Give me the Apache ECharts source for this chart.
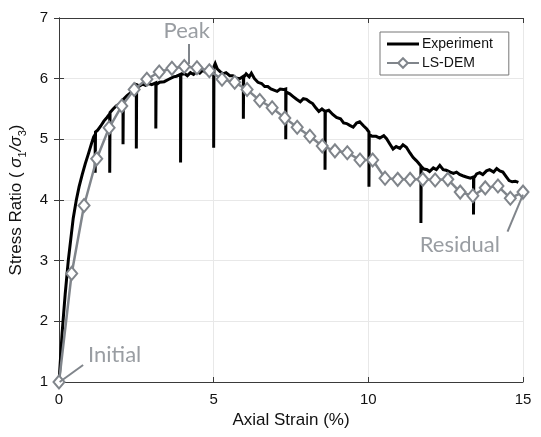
<!DOCTYPE html>
<html>
<head>
<meta charset="utf-8">
<script src="https://cdn.jsdelivr.net/npm/echarts@6/dist/echarts.min.js"></script>
<style>
  html, body { margin: 0; padding: 0; background: #fff; }
  #chart { width: 541px; height: 437px; }
</style>
</head>
<body>
<div id="chart"></div>
<script>
// experiment curve (strain %, stress ratio); spikes are repeated x
const expStrain = [0, 0.05, 0.10, 0.13, 0.20, 0.30, 0.38, 0.46, 0.56, 0.65, 0.75, 0.85, 0.95, 1.05, 1.12, 1.17, 1.17, 1.18,
    1.25, 1.35, 1.45, 1.55, 1.64, 1.64, 1.65, 1.75, 1.85, 1.95, 2.07, 2.07, 2.08, 2.20, 2.30, 2.40, 2.50, 2.50, 2.51,
    2.60, 2.70, 2.80, 2.90, 3.00, 3.13, 3.13, 3.14, 3.25, 3.40, 3.55, 3.70, 3.80, 3.93, 3.93, 3.94,
    4.05, 4.15, 4.25, 4.35, 4.45, 4.55, 4.65, 4.75, 4.85, 5.00, 5.00, 5.01, 5.05, 5.12, 5.20, 5.30, 5.40,
    5.52, 5.62, 5.72, 5.84, 5.96, 5.96, 5.97, 6.05, 6.15, 6.22, 6.32, 6.43, 6.55, 6.65, 6.75, 6.85, 6.95,
    7.05, 7.15, 7.25, 7.33, 7.33, 7.34, 7.46, 7.58, 7.68, 7.80, 7.90, 8.00, 8.10, 8.20, 8.30, 8.40, 8.50,
    8.60, 8.60, 8.61, 8.72, 8.85, 8.97, 9.10, 9.20, 9.30, 9.40, 9.51, 9.62, 9.72, 9.85, 9.95, 10.02, 10.02,
    10.03, 10.12, 10.25, 10.37, 10.50, 10.59, 10.70, 10.80, 10.90, 11.02, 11.12, 11.23, 11.34, 11.45, 11.55,
    11.62, 11.70, 11.70, 11.71, 11.80, 11.90, 11.98, 12.10, 12.20, 12.31, 12.42, 12.52, 12.65, 12.75, 12.85,
    12.95, 13.05, 13.17, 13.30, 13.40, 13.40, 13.41, 13.50, 13.60, 13.70, 13.82, 13.92, 14.05, 14.15, 14.25,
    14.35, 14.45, 14.55, 14.65, 14.75, 14.85];
const expRatio = [1.00, 1.40, 1.80, 2.00, 2.45, 3.00, 3.35, 3.70, 4.00, 4.22, 4.42, 4.60, 4.76, 4.93, 5.04, 5.08, 4.45, 5.12,
    5.15, 5.22, 5.30, 5.36, 5.42, 4.45, 5.44, 5.50, 5.55, 5.58, 5.64, 4.92, 5.66, 5.72, 5.76, 5.80, 5.86, 4.85, 5.90,
    5.88, 5.91, 5.89, 5.92, 5.90, 5.93, 5.18, 5.90, 5.94, 5.95, 5.99, 6.03, 6.04, 6.07, 4.62, 6.06,
    6.09, 6.05, 6.10, 6.07, 6.12, 6.09, 6.14, 6.10, 6.15, 6.16, 4.86, 6.20, 6.25, 6.16, 6.12, 6.08, 6.10,
    6.05, 6.05, 6.01, 6.00, 6.04, 5.34, 6.02, 6.08, 6.03, 6.09, 6.00, 5.94, 5.92, 5.87, 5.87, 5.83, 5.81,
    5.79, 5.83, 5.82, 5.83, 5.00, 5.78, 5.75, 5.70, 5.66, 5.62, 5.67, 5.66, 5.62, 5.59, 5.52, 5.46, 5.50,
    5.46, 4.50, 5.46, 5.48, 5.41, 5.36, 5.34, 5.27, 5.26, 5.23, 5.20, 5.27, 5.29, 5.22, 5.17, 5.12, 4.22,
    5.08, 5.05, 5.05, 5.02, 5.06, 5.01, 4.92, 4.84, 4.88, 4.85, 4.91, 4.87, 4.78, 4.70, 4.65,
    4.61, 4.56, 3.62, 4.55, 4.51, 4.50, 4.47, 4.53, 4.50, 4.57, 4.50, 4.49, 4.46, 4.44, 4.46,
    4.42, 4.40, 4.38, 4.36, 4.38, 3.76, 4.36, 4.43, 4.45, 4.42, 4.48, 4.50, 4.46, 4.52, 4.48,
    4.46, 4.39, 4.32, 4.30, 4.31, 4.29];

// LS-DEM simulation points
const demStrain = [0, 0.41, 0.81, 1.22, 1.62, 2.03, 2.43, 2.84, 3.24, 3.65, 4.05, 4.46, 4.86, 5.27, 5.68, 6.08,
    6.49, 6.89, 7.30, 7.70, 8.11, 8.51, 8.92, 9.32, 9.73, 10.14, 10.54, 10.95, 11.35, 11.76, 12.16, 12.57,
    12.97, 13.38, 13.78, 14.19, 14.59, 15.00];
const demRatio = [1.00, 2.79, 3.91, 4.68, 5.19, 5.55, 5.82, 5.99, 6.11, 6.17, 6.20, 6.18, 6.13, 5.99, 5.94, 5.82,
    5.64, 5.52, 5.35, 5.20, 5.05, 4.89, 4.81, 4.78, 4.66, 4.66, 4.36, 4.34, 4.34, 4.34, 4.33, 4.34,
    4.13, 4.07, 4.20, 4.23, 4.03, 4.13];

// annotations
const annotText = ['Peak', 'Residual', 'Initial'];
const annotX = [4.13, 12.96, 1.80];
const annotY = [6.79, 3.26, 1.45];
const leaderFrom = [[4.2, 6.57], [14.5, 3.48], [0.78, 1.28]];
const leaderTo = [[4.2, 6.24], [15.0, 4.09], [0.02, 1.0]];

const xTicks = { min: 0, max: 15, interval: 5 };
const yTicks = { min: 1, max: 7, interval: 1 };

const grey = '#80858b';
const axisCol = '#3a3a3a';

const chart = echarts.init(document.getElementById('chart'));

const frameAxis = {
    axisLine: { show: true, lineStyle: { color: axisCol, width: 1 } },
    axisTick: { show: true, inside: true, length: 5, lineStyle: { color: axisCol } },
    axisLabel: { show: false },
    splitLine: { show: false }
};

const option = {
    animation: false,
    backgroundColor: '#fff',
    grid: { left: 59, right: 18, top: 18, bottom: 55, outerBoundsMode: 'none' },
    legend: {
        orient: 'vertical',
        left: 380,
        top: 32,
        padding: [5, 16, 5, 6],
        itemGap: 5,
        itemWidth: 32,
        itemHeight: 12,
        backgroundColor: '#fff',
        borderColor: '#777',
        borderWidth: 1,
        textStyle: { fontFamily: 'Liberation Sans', fontSize: 14, color: '#111', padding: [0, 0, 0, -2] },
        data: [
            { name: 'Experiment', icon: 'path://M0,0L32,0L32,3L0,3Z' },
            { name: 'LS-DEM' }
        ]
    },
    xAxis: [
        {
            type: 'value',
            min: xTicks.min, max: xTicks.max, interval: xTicks.interval,
            name: 'Axial Strain (%)',
            nameLocation: 'middle',
            nameGap: 28,
            nameTextStyle: { fontFamily: 'Liberation Sans', fontSize: 17, color: '#111' },
            axisLine: { lineStyle: { color: axisCol } },
            axisTick: { inside: true, length: 5, lineStyle: { color: axisCol } },
            axisLabel: { fontFamily: 'Liberation Sans', fontSize: 15, color: '#111', margin: 10 },
            splitLine: { show: true, lineStyle: { color: '#e8e8e8' } }
        },
        Object.assign({ type: 'value', position: 'top', min: xTicks.min, max: xTicks.max, interval: xTicks.interval }, frameAxis)
    ],
    yAxis: [
        {
            type: 'value',
            min: yTicks.min, max: yTicks.max, interval: yTicks.interval,
            name: 'Stress Ratio ( {s|σ}{sub|1}{s|/σ}{sub|3})',
            nameLocation: 'middle',
            nameGap: 31,
            nameTextStyle: {
                fontFamily: 'Liberation Sans', fontSize: 17, color: '#111',
                rich: {
                    s: { fontFamily: 'Liberation Sans', fontSize: 17, fontStyle: 'italic', color: '#111', lineHeight: 24 },
                    sub: { fontFamily: 'Liberation Sans', fontSize: 11, color: '#111', verticalAlign: 'bottom', lineHeight: 24 }
                }
            },
            axisLine: { lineStyle: { color: axisCol } },
            axisTick: { inside: true, length: 5, lineStyle: { color: axisCol } },
            axisLabel: { fontFamily: 'Liberation Sans', fontSize: 15, color: '#111', margin: 11 },
            splitLine: { show: true, lineStyle: { color: '#e8e8e8' } }
        },
        Object.assign({ type: 'value', position: 'right', min: yTicks.min, max: yTicks.max, interval: yTicks.interval }, frameAxis)
    ],
    series: [
        {
            name: 'Experiment',
            type: 'line',
            data: expStrain.map((x, i) => [x, expRatio[i]]),
            showSymbol: false,
            symbol: 'none',
            lineStyle: { color: '#000', width: 3, join: 'miter' },
            itemStyle: { color: '#000' },
            z: 2
        },
        {
            name: 'LS-DEM',
            type: 'line',
            data: demStrain.map((x, i) => [x, demRatio[i]]),
            symbol: 'emptyDiamond',
            symbolSize: [11, 13],
            clip: false,
            lineStyle: { color: grey, width: 2.5 },
            itemStyle: { color: grey, borderWidth: 2 },
            z: 3
        },
        {
            name: 'annotations',
            type: 'scatter',
            symbolSize: 0,
            clip: false,
            silent: true,
            data: annotText.map((t, i) => ({ name: t, value: [annotX[i], annotY[i]] })),
            label: {
                show: true,
                position: 'inside',
                formatter: p => p.name,
                fontFamily: 'Lato',
                fontSize: 22,
                color: grey
            },
            markLine: {
                silent: true,
                symbol: ['none', 'none'],
                label: { show: false },
                lineStyle: { color: grey, width: 2, type: 'solid' },
                data: leaderFrom.map((p, i) => [{ coord: p }, { coord: leaderTo[i] }])
            },
            z: 4
        }
    ]
};

chart.setOption(option);
</script>
</body>
</html>
